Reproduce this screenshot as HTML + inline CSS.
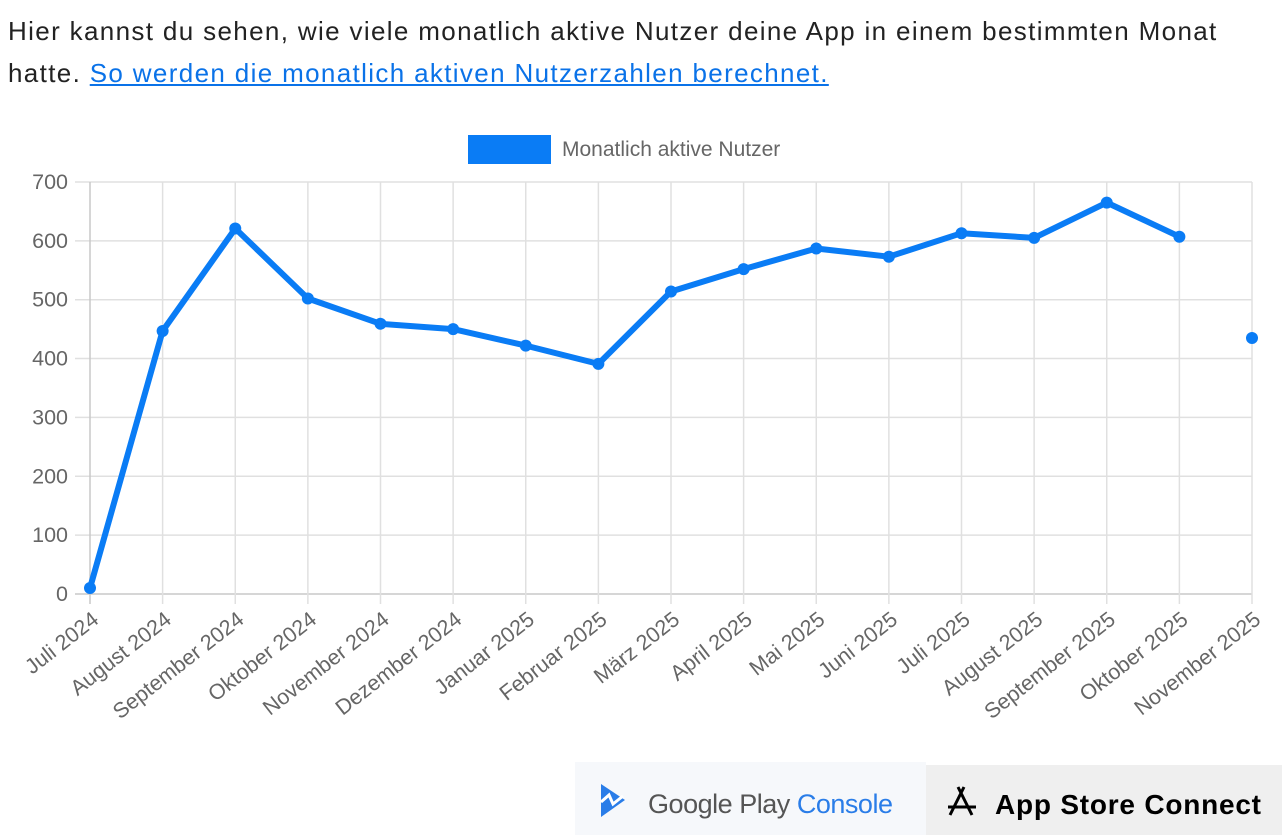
<!DOCTYPE html>
<html><head><meta charset="utf-8"><style>
body{margin:0;width:1282px;height:835px;overflow:hidden;background:#fff;font-family:"Liberation Sans",Arial,sans-serif;position:relative}
.t{position:absolute;left:8px;top:10px;font-size:26px;letter-spacing:1.35px;line-height:42px;color:#222;width:1274px;white-space:nowrap}
.t a{color:#0a72e8;text-decoration:underline}
.gp{position:absolute;left:575px;top:762px;width:351px;height:73px;background:#f6f8fb}
.as{position:absolute;left:926px;top:765px;width:356px;height:70px;background:#efefef}
</style></head><body>
<div class="t">Hier kannst du sehen, wie viele monatlich aktive Nutzer deine App in einem bestimmten Monat<br>hatte. <a>So werden die monatlich aktiven Nutzerzahlen berechnet.</a></div>
<svg width="1282" height="760" style="position:absolute;left:0;top:0" font-family="Liberation Sans, Arial, sans-serif">
<rect x="468" y="135" width="83" height="29" fill="#0a7cf5"/>
<text x="562" y="156" font-size="21" fill="#666">Monatlich aktive Nutzer</text>
<g stroke="#e0e0e0" stroke-width="1.5" id="grid"></g>
<g id="lbl" font-size="21.5" fill="#666"></g>
<polyline fill="none" stroke="#0a7cf5" stroke-width="6" stroke-linejoin="round" points="90,588 162.6,331 235.3,228.5 307.9,298.5 380.5,323.8 453.1,329.1 525.8,345.6 598.4,363.9 671,291.5 743.6,269.1 816.3,248.5 888.9,256.7 961.5,233.2 1034.1,237.9 1106.8,202.6 1179.4,236.7"/>
<g fill="#0a7cf5" id="pts"></g>
</svg>
<div class="gp"><svg width="351" height="73"><path d="M26 22 L50 38 L26 55 Z" fill="#2a7de8"/><path d="M26 40 L34 33 L38 42 L48 34" stroke="#fff" stroke-width="3" fill="none"/><text x="73" y="51" font-family="Liberation Sans,Arial,sans-serif" font-size="27" fill="#555" textLength="245">Google Play <tspan fill="#2a7de8">Console</tspan></text></svg></div>
<div class="as"><svg width="356" height="70"><path d="M32 22 L46 50 M38 22 L24 50 M22 42 L50 42" stroke="#000" stroke-width="3" fill="none"/><text x="69" y="49" font-family="Liberation Sans,Arial,sans-serif" font-size="28" font-weight="bold" fill="#000" textLength="266">App Store Connect</text></svg></div>
<script>
var ns="http://www.w3.org/2000/svg",g=document.getElementById('grid'),l=document.getElementById('lbl'),p=document.getElementById('pts');
function el(t,a,par,tx){var e=document.createElementNS(ns,t);for(var k in a)e.setAttribute(k,a[k]);if(tx)e.textContent=tx;par.appendChild(e);return e}
for(var v=0;v<=7;v++){var y=594-v*58.86;el('line',{x1:75,x2:1252,y1:y,y2:y,stroke:v==0?'#c8c8c8':'#e0e0e0'},g);el('text',{x:68,y:y+7,'text-anchor':'end'},l,String(v*100))}
var m=["Juli 2024","August 2024","September 2024","Oktober 2024","November 2024","Dezember 2024","Januar 2025","Februar 2025","März 2025","April 2025","Mai 2025","Juni 2025","Juli 2025","August 2025","September 2025","Oktober 2025","November 2025"];
var ys=[588,331,228.5,298.5,323.8,329.1,345.6,363.9,291.5,269.1,248.5,256.7,233.2,237.9,202.6,236.7,338];
for(var i=0;i<17;i++){var x=90+i*72.625;el('line',{x1:x,x2:x,y1:182,y2:604,stroke:i==0?'#c8c8c8':'#e0e0e0'},g);
el('text',{x:x+10,y:622,'text-anchor':'end',transform:'rotate(-38 '+(x+10)+' 622)'},l,m[i]);
el('circle',{cx:x,cy:ys[i],r:6},p)}
</script>
</body></html>
